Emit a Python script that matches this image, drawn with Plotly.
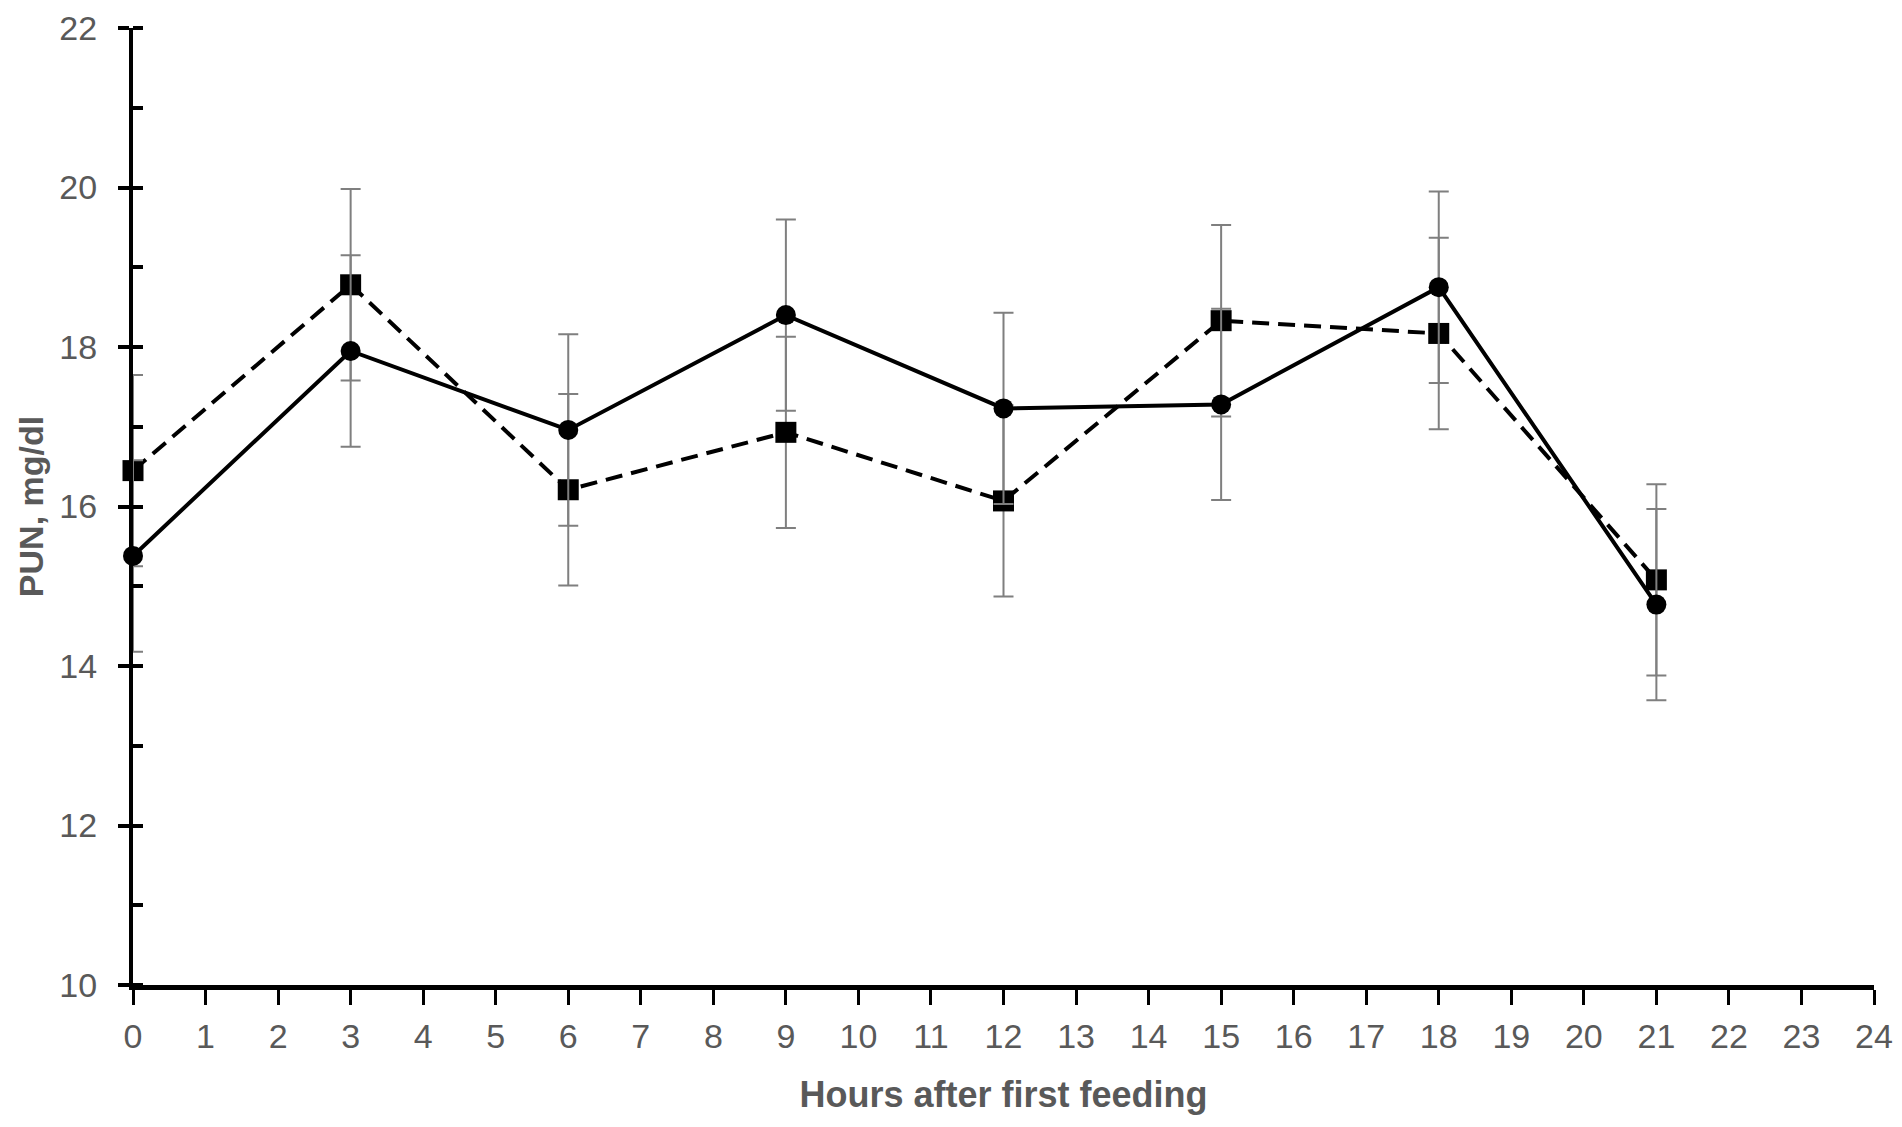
import plotly.graph_objects as go

# hours after first feeding
hours = [0, 3, 6, 9, 12, 15, 18, 21]

# PUN, mg/dl
pun_circle = [15.38, 17.95, 16.96, 18.40, 17.23, 17.28, 18.75, 14.77]
pun_square = [16.45, 18.78, 16.21, 16.93, 16.07, 18.33, 18.17, 15.08]

# standard errors
se_circle = [1.2, 1.2, 1.2, 1.2, 1.2, 1.2, 1.2, 1.2]
se_square = [1.2, 1.2, 1.2, 1.2, 1.2, 1.2, 1.2, 1.2]

x_ticks = list(range(0, 25))
y_ticks = [10, 12, 14, 16, 18, 20, 22]

GRAY = '#7f7f7f'
LABEL = '#595959'
FONT = 'Liberation Sans Narrow, Liberation Sans, sans-serif'

fig = go.Figure()

fig.add_trace(go.Scatter(
    x=hours,
    y=pun_square,
    mode='lines+markers',
    name='square',
    line={'color': 'black', 'width': 4, 'dash': '17px,9px'},
    marker={'symbol': 'square', 'size': 21, 'color': 'black'},
    error_y={'type': 'data', 'array': se_square, 'color': GRAY, 'thickness': 2, 'width': 10},
    cliponaxis=False,
    ))

fig.add_trace(go.Scatter(
    x=hours,
    y=pun_circle,
    mode='lines+markers',
    name='circle',
    line={'color': 'black', 'width': 4},
    marker={'symbol': 'circle', 'size': 20, 'color': 'black'},
    error_y={'type': 'data', 'array': se_circle, 'color': GRAY, 'thickness': 2, 'width': 10},
    cliponaxis=False,
    ))

fig.update_xaxes(
    range=[0, 24],
    tickmode='array',
    tickvals=x_ticks,
    ticks='outside',
    ticklen=15,
    tickwidth=3,
    tickcolor='black',
    ticklabelstandoff=2,
    ticklabeloverflow='allow',
    showline=True,
    linecolor='black',
    linewidth=5,
    showgrid=False,
    zeroline=False,
    automargin=False,
    tickfont={'family': FONT, 'size': 34, 'color': LABEL},
    title={'text': '<b>Hours after first feeding</b>', 'font': {'family': FONT, 'size': 36, 'color': LABEL}, 'standoff': 30},
    )

fig.update_yaxes(
    range=[10, 22],
    tickmode='array',
    tickvals=y_ticks,
    ticks='outside',
    ticklen=11,
    tickwidth=4,
    tickcolor='black',
    ticklabelstandoff=14,
    ticklabeloverflow='allow',
    showline=True,
    linecolor='black',
    linewidth=4,
    showgrid=False,
    zeroline=False,
    automargin=False,
    minor={'ticks': 'inside', 'dtick': 1, 'ticklen': 10, 'tickwidth': 4, 'tickcolor': 'black'},
    tickfont={'family': FONT, 'size': 34, 'color': LABEL},
    title={'text': '<b>PUN, mg/dl</b>', 'font': {'family': FONT, 'size': 34, 'color': LABEL}, 'standoff': 6},
    )

# inner half of the major y ticks (they cross the axis)
fig.update_layout(
    yaxis2={'overlaying': 'y', 'range': [10, 22], 'tickmode': 'array', 'tickvals': y_ticks,
            'ticks': 'inside', 'ticklen': 10, 'tickwidth': 4, 'tickcolor': 'black',
            'showticklabels': False, 'showgrid': False, 'zeroline': False, 'showline': False},
    )
fig.add_trace(go.Scatter(x=[None], y=[None], yaxis='y2', showlegend=False, hoverinfo='skip'))

# page body adds 8px on each side, so the figure is 16px smaller than the window
fig.update_layout(
    width=1886,
    height=1111,
    margin={'l': 125, 'r': 20, 't': 20, 'b': 134},
    plot_bgcolor='white',
    paper_bgcolor='white',
    showlegend=False,
    )

fig.write_html('out.html')
